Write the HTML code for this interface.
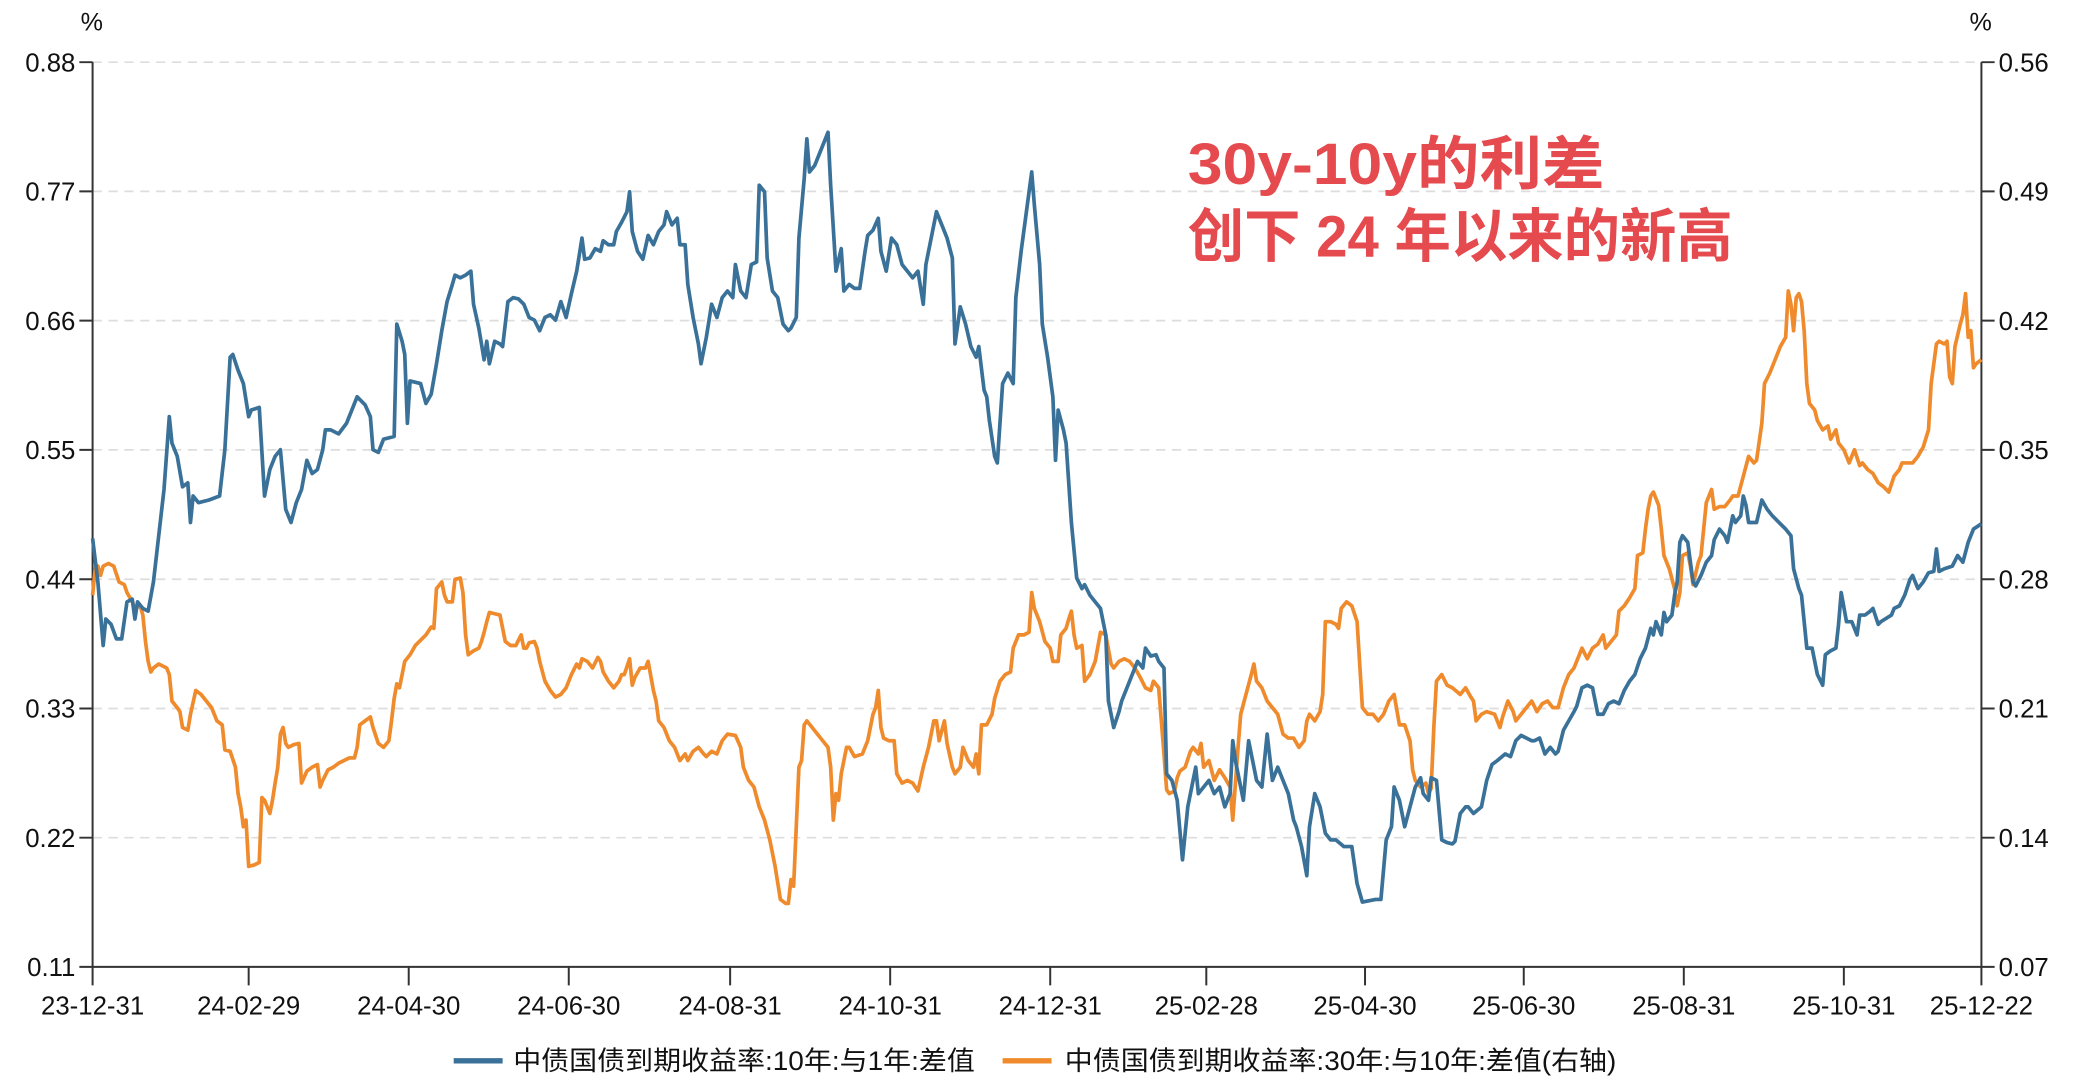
<!DOCTYPE html>
<html><head><meta charset="utf-8"><style>
html,body{margin:0;padding:0;background:#fff;}
svg{display:block;}
text{font-family:"Liberation Sans","Noto Sans CJK SC",sans-serif;fill:#111;}
</style></head><body>
<svg width="2074" height="1082" viewBox="0 0 1568 818" xmlns="http://www.w3.org/2000/svg">
<g stroke="#ddd" stroke-width="1.3" stroke-dasharray="7,5">
<line x1="70" x2="1498" y1="47" y2="47"/><line x1="70" x2="1498" y1="144.7" y2="144.7"/>
<line x1="70" x2="1498" y1="242.4" y2="242.4"/><line x1="70" x2="1498" y1="340.1" y2="340.1"/>
<line x1="70" x2="1498" y1="437.9" y2="437.9"/><line x1="70" x2="1498" y1="535.6" y2="535.6"/>
<line x1="70" x2="1498" y1="633.3" y2="633.3"/>
</g>
<g stroke="#333" stroke-width="1.5" fill="none">
<line x1="70" y1="47" x2="70" y2="731"/><line x1="1498" y1="47" x2="1498" y2="745"/>
<line x1="70" y1="731" x2="1498" y2="731"/>
<path d="M60 47H70M60 144.7H70M60 242.4H70M60 340.1H70M60 437.9H70M60 535.6H70M60 633.3H70M60 731H70"/>
<path d="M1498 47H1508M1498 144.7H1508M1498 242.4H1508M1498 340.1H1508M1498 437.9H1508M1498 535.6H1508M1498 633.3H1508M1498 731H1508"/>
<path d="M70 731V745M188 731V745M309 731V745M430 731V745M552 731V745M673 731V745M794 731V745M912 731V745M1032 731V745M1152 731V745M1273 731V745M1394 731V745"/>
</g>
<g font-size="19.5" text-anchor="end">
<text x="57" y="54">0.88</text><text x="57" y="151.7">0.77</text><text x="57" y="249.4">0.66</text><text x="57" y="347.1">0.55</text><text x="57" y="444.9">0.44</text><text x="57" y="542.6">0.33</text><text x="57" y="640.3">0.22</text><text x="57" y="738">0.11</text>
</g>
<g font-size="19.5">
<text x="1511" y="54">0.56</text><text x="1511" y="151.7">0.49</text><text x="1511" y="249.4">0.42</text><text x="1511" y="347.1">0.35</text><text x="1511" y="444.9">0.28</text><text x="1511" y="542.6">0.21</text><text x="1511" y="640.3">0.14</text><text x="1511" y="738">0.07</text>
</g>
<text x="61" y="23" font-size="19">%</text><text x="1489" y="23" font-size="19">%</text>
<g font-size="19.5" text-anchor="middle">
<text x="70" y="767">23-12-31</text><text x="188" y="767">24-02-29</text><text x="309" y="767">24-04-30</text><text x="430" y="767">24-06-30</text><text x="552" y="767">24-08-31</text><text x="673" y="767">24-10-31</text><text x="794" y="767">24-12-31</text><text x="912" y="767">25-02-28</text><text x="1032" y="767">25-04-30</text><text x="1152" y="767">25-06-30</text><text x="1273" y="767">25-08-31</text><text x="1394" y="767">25-10-31</text><text x="1498" y="767">25-12-22</text>
</g>
<polyline fill="none" stroke="#ef8b2c" stroke-width="2.8" stroke-linejoin="round" points="70,450 72,430 74,428 76,435 78,428 82,426 86,428 90,440 94,442 96,448 100,455 102,460 106,458 108,465 110,485 112,500 114,508 116,505 120,502 126,505 128,510 130,530 134,535 136,538 138,550 142,552 144,540 148,522 152,525 156,530 160,535 164,545 168,548 170,567 174,568 178,580 180,600 182,610 184,625 186,620 188,655 192,654 196,652 198,603 200,605 204,615 206,605 208,592 210,580 212,555 214,550 216,562 218,565 222,563 226,562 228,592 232,583 236,580 240,578 242,595 244,590 248,582 252,580 256,577 260,575 264,573 268,573 270,565 272,548 276,545 280,542 282,550 286,562 290,565 294,560 296,545 298,528 300,517 302,520 304,510 306,500 310,495 314,488 318,484 322,480 326,474 328,475 330,445 334,440 336,450 338,455 342,455 344,438 348,437 350,448 352,480 354,495 358,492 362,490 364,485 366,478 368,470 370,463 374,464 378,465 380,475 382,485 386,488 390,488 394,480 396,490 398,490 400,486 404,485 406,490 408,500 412,515 416,522 420,527 424,525 428,520 432,510 436,502 438,505 440,498 444,500 448,505 452,497 454,500 456,508 460,515 464,520 468,515 470,510 472,510 476,498 478,518 480,512 484,505 488,505 490,500 494,522 496,530 498,545 502,550 506,560 510,565 514,575 518,570 520,575 524,568 528,565 532,570 534,572 538,568 542,570 546,560 550,555 556,556 560,565 562,580 566,590 570,595 574,610 578,620 582,635 586,655 590,680 594,683 596,683 598,665 600,670 604,580 606,575 608,548 610,545 614,550 618,555 622,560 626,565 628,580 630,620 632,600 634,605 636,585 638,575 640,565 642,565 646,572 652,570 656,560 660,540 662,535 664,522 666,550 668,558 672,560 676,560 678,585 682,592 686,590 690,592 694,598 698,580 702,565 704,555 706,545 708,545 710,560 714,545 716,562 720,580 722,585 726,580 728,565 732,575 736,580 738,570 740,585 742,548 746,548 750,540 752,528 756,515 760,510 764,508 766,490 770,480 774,480 778,478 780,448 782,460 786,470 790,485 794,490 796,500 800,500 802,480 806,475 808,468 810,462 812,480 814,490 818,488 820,515 824,510 828,500 832,478 836,480 840,502 842,505 846,500 850,498 854,500 858,505 862,512 866,520 870,522 872,515 876,520 878,545 880,570 882,597 884,600 888,598 890,588 892,583 896,580 900,568 902,565 906,570 908,562 910,580 914,575 918,590 922,582 926,588 930,595 932,620 936,565 938,540 942,525 946,510 948,502 950,515 954,520 958,530 962,535 966,540 970,555 974,558 978,558 982,565 986,560 988,545 990,540 994,545 998,538 1000,525 1002,470 1006,470 1010,472 1012,475 1014,460 1018,455 1022,458 1026,470 1030,535 1034,540 1038,540 1042,545 1046,540 1050,530 1054,525 1058,548 1062,548 1066,560 1068,582 1070,590 1074,595 1078,592 1080,600 1082,596 1084,550 1086,515 1090,510 1094,518 1098,520 1104,525 1108,520 1112,527 1114,530 1116,545 1120,540 1124,538 1130,540 1134,550 1136,542 1140,530 1144,538 1146,545 1150,540 1154,535 1158,530 1162,538 1166,532 1170,530 1174,535 1178,535 1182,520 1186,510 1190,505 1194,495 1196,490 1200,498 1204,490 1208,487 1212,480 1214,490 1218,485 1222,480 1224,462 1228,458 1232,452 1236,445 1238,420 1242,418 1244,400 1246,385 1248,375 1250,372 1254,382 1256,400 1258,420 1262,430 1266,445 1268,458 1270,448 1272,420 1276,418 1278,428 1280,442 1284,425 1286,420 1290,380 1294,370 1296,385 1300,383 1304,383 1308,378 1310,375 1314,375 1318,360 1322,345 1326,350 1328,348 1332,320 1334,290 1338,282 1342,272 1346,262 1350,255 1352,220 1354,230 1356,250 1358,225 1360,222 1362,228 1364,250 1366,290 1368,305 1372,310 1374,318 1378,325 1382,322 1384,332 1388,325 1390,335 1394,340 1398,350 1402,340 1406,352 1408,350 1412,355 1416,358 1420,365 1424,368 1428,372 1432,360 1436,355 1438,350 1442,350 1446,350 1450,345 1454,338 1458,325 1460,290 1464,260 1466,258 1470,260 1472,258 1474,285 1476,290 1478,262 1482,245 1484,238 1486,222 1488,255 1490,250 1492,278 1494,275 1498,272"/>
<polyline fill="none" stroke="#3a7199" stroke-width="2.8" stroke-linejoin="round" points="70,407 74,440 78,488 80,468 84,472 88,483 92,483 96,455 100,453 102,468 104,455 108,460 112,462 116,440 120,405 124,370 128,315 130,335 134,345 138,368 142,365 144,395 146,375 150,380 158,378 166,375 170,340 174,270 176,268 180,280 184,290 188,315 190,310 196,308 200,375 204,355 208,345 212,340 216,385 220,395 224,380 228,370 232,348 236,358 240,355 244,340 246,325 250,325 256,328 262,320 266,310 270,300 276,306 280,315 282,340 286,342 290,332 298,330 300,245 304,258 306,268 308,320 310,288 318,290 322,305 326,298 330,275 334,250 338,228 342,215 344,208 348,210 352,208 356,205 358,230 362,248 366,272 368,258 370,275 374,258 378,260 380,262 384,228 388,225 392,226 396,230 400,240 404,242 408,250 412,240 416,238 420,242 424,228 428,240 432,222 436,205 440,180 442,196 446,195 450,188 454,190 456,182 460,185 464,185 466,175 470,168 474,160 476,145 478,175 482,190 486,196 490,178 494,185 498,175 502,170 504,160 508,170 512,165 514,185 518,185 520,215 524,240 528,260 530,275 534,255 538,230 542,240 546,225 550,220 554,225 556,200 560,220 564,225 568,200 572,198 574,140 578,145 580,195 584,220 588,225 592,245 596,250 598,248 602,240 604,180 608,135 610,105 612,130 616,125 620,115 626,100 628,140 632,205 636,188 638,220 642,215 646,218 650,218 654,190 656,178 660,174 664,165 666,190 670,205 674,180 678,185 682,200 686,205 690,210 694,205 698,230 700,200 704,180 708,160 712,170 716,180 720,195 722,260 726,232 730,245 734,262 738,270 740,262 744,295 746,300 748,318 752,345 754,350 756,320 758,290 762,282 766,290 768,225 772,190 776,160 780,130 782,155 786,200 788,245 792,270 796,300 798,348 800,310 804,325 806,335 810,395 814,437 818,445 820,442 824,450 828,455 832,460 836,480 838,530 842,550 846,538 848,530 852,520 856,510 860,500 864,505 866,490 870,496 874,495 876,500 880,505 882,585 886,590 890,605 894,650 898,610 902,590 904,580 906,600 910,595 914,590 918,600 922,595 926,610 930,600 932,560 934,575 938,595 940,605 944,560 946,570 950,590 954,595 958,555 962,590 966,580 970,590 974,600 978,620 980,625 984,640 988,662 990,625 994,600 998,610 1002,630 1006,635 1010,635 1016,640 1022,640 1026,668 1030,682 1040,680 1044,680 1048,635 1052,625 1054,595 1058,605 1062,625 1066,610 1070,595 1074,588 1076,600 1080,605 1082,588 1086,590 1090,635 1094,637 1098,638 1100,636 1104,615 1108,610 1110,610 1114,615 1120,610 1124,590 1128,578 1132,575 1138,570 1142,572 1146,560 1150,556 1154,558 1158,560 1160,560 1164,558 1168,570 1172,565 1176,570 1178,568 1182,552 1186,545 1190,538 1192,534 1196,520 1200,518 1204,520 1208,540 1212,540 1216,532 1220,530 1224,532 1228,522 1232,515 1236,510 1240,498 1244,490 1248,475 1250,480 1252,470 1256,480 1258,463 1260,470 1264,465 1266,450 1268,440 1270,410 1272,405 1276,410 1280,440 1282,443 1286,435 1290,425 1294,420 1296,408 1300,400 1304,405 1306,410 1310,390 1312,395 1316,390 1318,375 1320,382 1322,395 1328,395 1332,378 1336,385 1340,390 1350,400 1354,405 1356,430 1360,445 1362,450 1366,490 1370,490 1374,510 1378,518 1380,495 1384,492 1388,490 1390,472 1392,448 1396,470 1400,470 1404,480 1406,465 1410,465 1414,462 1416,460 1420,472 1422,470 1430,465 1432,460 1436,458 1440,450 1444,438 1446,435 1450,445 1454,440 1458,433 1462,432 1464,415 1466,432 1470,430 1476,428 1480,420 1484,425 1488,410 1492,400 1498,396"/>
<g font-size="44" font-weight="bold">
<text x="898" y="139" textLength="315" lengthAdjust="spacingAndGlyphs" style="fill:#e44a4e">30y-10y的利差</text>
<text x="898" y="194" textLength="412" lengthAdjust="spacingAndGlyphs" style="fill:#e44a4e">创下 24 年以来的新高</text>
</g>
<line x1="343" y1="802" x2="380" y2="802" stroke="#3a7199" stroke-width="4"/>
<text x="388" y="809" font-size="20" textLength="349" lengthAdjust="spacingAndGlyphs">中债国债到期收益率:10年:与1年:差值</text>
<line x1="758" y1="802" x2="795" y2="802" stroke="#ef8b2c" stroke-width="4"/>
<text x="805" y="809" font-size="20" textLength="417" lengthAdjust="spacingAndGlyphs">中债国债到期收益率:30年:与10年:差值(右轴)</text>
</svg>
</body></html>
